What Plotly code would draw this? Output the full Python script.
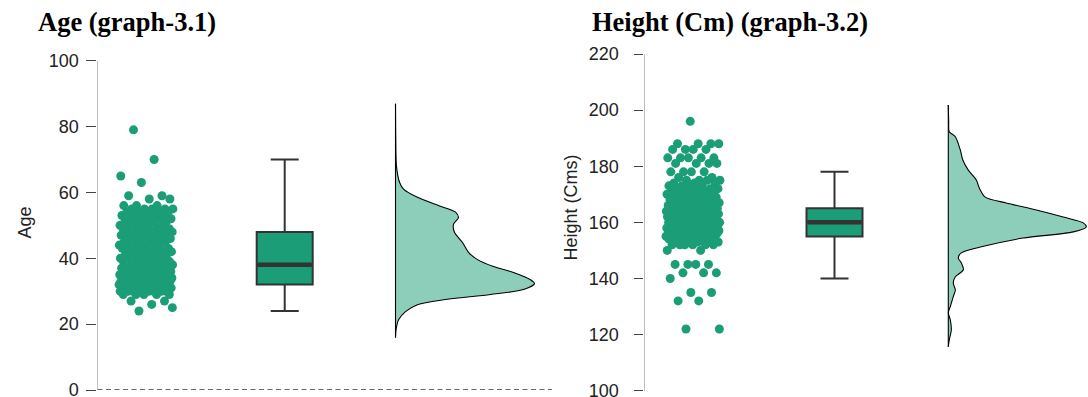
import numpy as np
import plotly.graph_objects as go

# ---------------- data ----------------
age_values = [24, 25, 26, 27, 29, 30, 31, 32, 33, 34, 35, 36, 37, 38, 39, 40, 41, 42, 43, 44,
              45, 46, 47, 48, 49, 50, 51, 52, 53, 54, 55, 56, 58, 59, 63, 65, 70, 79]
age_counts = [1, 1, 1, 2, 5, 11, 11, 11, 11, 10, 9, 8, 7, 7, 5, 5, 5, 5, 5, 5,
              6, 6, 6, 6, 5, 5, 5, 5, 5, 5, 5, 3, 2, 2, 1, 1, 1, 1]

height_values = [122, 132, 135, 140, 142, 145, 150, 152, 153, 154, 155, 156, 157, 158, 159, 160,
                 161, 162, 163, 164, 165, 166, 167, 168, 169, 170, 171, 172, 173, 174, 175, 176,
                 178, 181, 183, 186, 188, 196]
height_counts = [2, 2, 2, 1, 3, 4, 2, 6, 5, 6, 9, 8, 9, 11, 9, 12,
                 9, 9, 8, 8, 9, 6, 6, 6, 5, 5, 4, 4, 4, 3, 4, 2,
                 4, 4, 5, 4, 4, 1]

# box statistics: lower whisker, q1, median, q3, upper whisker
age_box_stats = [24, 32, 38, 48, 70]
height_box_stats = [140, 155, 160, 165, 178]

# density profiles (relative density, peak = 1)
age_density_at = [15.9, 18.3, 21.3, 23.8, 25.9, 27.4, 29.0, 30.5, 32.3, 33.5, 35.7, 37.5, 39.6,
                  41.8, 44.8, 47.9, 50.3, 52.4, 54.0, 55.8, 58.5, 61.0, 63.1, 68.0, 76.0, 86.9]
age_density = [0.0, 0.004, 0.022, 0.072, 0.158, 0.345, 0.683, 0.921, 1.0, 0.971, 0.849, 0.705,
               0.59, 0.525, 0.482, 0.424, 0.417, 0.453, 0.432, 0.324, 0.158, 0.058, 0.029,
               0.007, 0.002, 0.0]

height_density_at = [115.7, 118.1, 121.7, 125.3, 127.8, 129.9, 133.5, 135.9, 138.4, 140.6, 143.1,
                     145.6, 147.3, 149.1, 151.2, 154.4, 156.6, 158.4, 159.8, 161.9, 164.4, 166.9,
                     169.0, 172.2, 175.1, 178.6, 182.2, 185.8, 190.5, 192.3, 196.0, 201.8]
height_density = [0.0, 0.007, 0.022, 0.014, 0.0, 0.014, 0.036, 0.051, 0.036, 0.051, 0.109,
                  0.094, 0.072, 0.094, 0.232, 0.543, 0.906, 1.0, 0.978, 0.833, 0.638, 0.42,
                  0.268, 0.225, 0.203, 0.145, 0.105, 0.087, 0.051, 0.007, 0.003, 0.0]

age_ticks = [0, 20, 40, 60, 80, 100]
height_ticks = [100, 120, 140, 160, 180, 200, 220]

# ---------------- styling ----------------
GREEN = "#1b9e77"
GREEN_LIGHT = "rgba(27,158,119,0.5)"
DARK = "#333333"
W, H = 1088, 397


def fy(ypx):
    """pixel row (from top of window) -> paper fraction"""
    return (H - ypx) / H


panels = [
    dict(values=age_values, counts=age_counts, box=age_box_stats, dens_at=age_density_at,
         dens=age_density, ticks=age_ticks, yrange=[0, 100], xrange=[97.5, 552],
         ydom=[fy(390), fy(60.7)], pts_x=146, box_x=284.7, dens_x=395.5,
         dens_w=139, xa="x", ya="y", ticklen=10, standoff=4),
    dict(values=height_values, counts=height_counts, box=height_box_stats,
         dens_at=height_density_at, dens=height_density, ticks=height_ticks,
         yrange=[100, 220], xrange=[644.5, 1088], ydom=[fy(390.7), fy(54)],
         pts_x=693, box_x=834.5, dens_x=948.3, dens_w=138, xa="x2", ya="y2",
         ticklen=9, standoff=12),
]

fig = go.Figure()
PHI = 0.6180339887

for p in panels:
    ys = np.repeat(np.array(p["values"], float), p["counts"])
    # horizontal jitter (position only), evenly spread low-discrepancy sequence
    idx = np.arange(len(ys))
    xs = p["pts_x"] + ((idx * PHI + 0.37) % 1.0 - 0.5) * 54
    fig.add_trace(go.Scatter(x=xs, y=ys, mode="markers", xaxis=p["xa"], yaxis=p["ya"],
                             marker=dict(size=9, color=GREEN, line=dict(width=0)),
                             showlegend=False, hoverinfo="y"))
    lo, q1, med, q3, hi = p["box"]
    fig.add_trace(go.Box(x=[p["box_x"]], q1=[q1], median=[med], q3=[q3],
                         lowerfence=[lo], upperfence=[hi], width=56, whiskerwidth=0.5,
                         fillcolor=GREEN, line=dict(color=DARK, width=2),
                         boxpoints=False, xaxis=p["xa"], yaxis=p["ya"], showlegend=False))
    fig.add_trace(go.Scatter(x=[p["box_x"] - 27, p["box_x"] + 27], y=[med, med], mode="lines",
                             line=dict(color=DARK, width=4.5), xaxis=p["xa"], yaxis=p["ya"],
                             showlegend=False, hoverinfo="skip"))
    dx = [p["dens_x"] + d * p["dens_w"] for d in p["dens"]]
    dy = list(p["dens_at"])
    fig.add_trace(go.Scatter(x=dx, y=dy, mode="lines", fill="toself", fillcolor=GREEN_LIGHT,
                             line=dict(color="black", width=1.1, shape="spline", smoothing=0.8),
                             xaxis=p["xa"], yaxis=p["ya"], showlegend=False, hoverinfo="skip"))
    fig.add_trace(go.Scatter(x=[p["dens_x"], p["dens_x"]], y=[dy[0], dy[-1]], mode="lines",
                             line=dict(color="black", width=1.1), xaxis=p["xa"], yaxis=p["ya"],
                             showlegend=False, hoverinfo="skip"))

axis_common = dict(showgrid=False, zeroline=False, showline=True, linecolor="#bdbdbd",
                   linewidth=1.3, ticks="outside", tickcolor="#444444", tickwidth=1,
                   ticklabeloverflow="allow", automargin=False,
                   tickfont=dict(family="Liberation Sans, Arial, sans-serif", size=18,
                                 color="#222222"))

layout = dict(
    width=W, height=H, margin=dict(l=0, r=0, t=0, b=0, autoexpand=False),
    plot_bgcolor="white", paper_bgcolor="white", showlegend=False,
)
for i, p in enumerate(panels):
    sx = "" if i == 0 else "2"
    layout["xaxis" + sx] = dict(domain=[p["xrange"][0] / W, p["xrange"][1] / W],
                                range=p["xrange"], visible=False, anchor="y" + sx,
                                automargin=False)
    layout["yaxis" + sx] = dict(domain=p["ydom"], range=p["yrange"], tickvals=p["ticks"],
                                ticklen=p["ticklen"], ticklabelstandoff=p["standoff"],
                                anchor="x" + sx, **axis_common)
fig.update_layout(**layout)

# dashed reference line at 0 on the age panel
fig.add_shape(type="line", xref="x", yref="y", x0=97.5, x1=552, y0=0, y1=0,
              line=dict(color="#3a3a3a", width=1.5, dash="5px,3.5px"))

title_font = dict(family="Liberation Serif, Times New Roman, serif", size=26.5, color="black")
fig.add_annotation(text="<b>Age (graph-3.1)</b>", xref="paper", yref="paper",
                   x=36 / W, y=fy(22), xanchor="left", yanchor="middle",
                   showarrow=False, font=title_font)
fig.add_annotation(text="<b>Height (Cm) (graph-3.2)</b>", xref="paper", yref="paper",
                   x=590 / W, y=fy(22), xanchor="left", yanchor="middle",
                   showarrow=False, font=title_font)

ytitle_font = dict(family="Liberation Sans, Arial, sans-serif", size=18, color="#222222")
fig.add_annotation(text="Age", xref="paper", yref="paper", x=24 / W, y=fy(222.5),
                   xanchor="center", yanchor="middle", textangle=-90, showarrow=False,
                   font=ytitle_font)
fig.add_annotation(text="Height (Cms)", xref="paper", yref="paper", x=570 / W,
                   y=fy(207.5), xanchor="center", yanchor="middle", textangle=-90,
                   showarrow=False, font=ytitle_font)

fig.write_html("out.html")
